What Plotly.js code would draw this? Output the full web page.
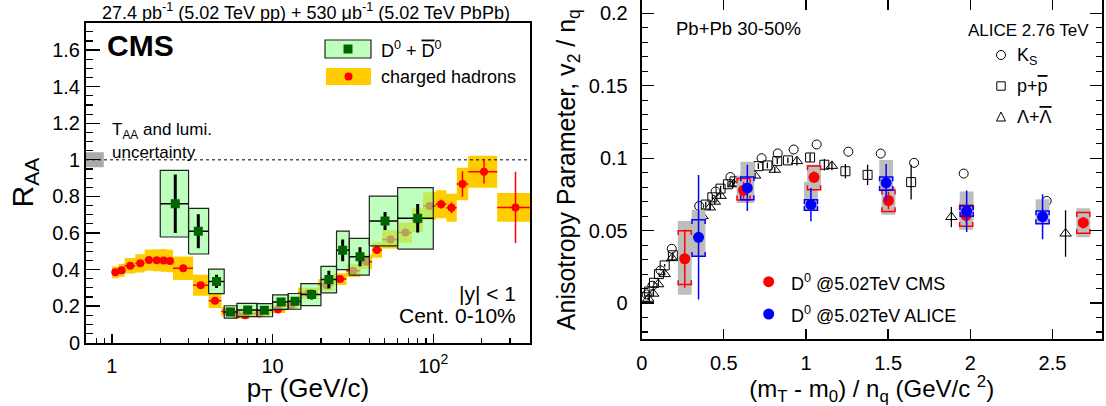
<!DOCTYPE html>
<html><head><meta charset="utf-8">
<script src="https://cdn.plot.ly/plotly-3.0.1.min.js"></script>
<style>html,body{margin:0;padding:0;background:#fff}#chart{width:1106px;height:406px}</style>
</head><body><div id="chart"></div>
<script>
// ================= LEFT PANEL DATA (CMS R_AA, 0-10%) =================
const chEdges = [1.0,1.1,1.2,1.4,1.6,1.8,2.0,2.2,2.4,3.2,4.0,4.8,5.6,6.4,7.2,9.6,12,14.4,19.2,24,28.8,35.2,41.6,48,60.8,73.6,86.4,103.6,120.8,140,165,250,400];
const chPt   = [1.05,1.15,1.3,1.5,1.7,1.9,2.1,2.3,2.78,3.57,4.38,5.19,6.0,6.75,8.3,10.8,13.1,16.8,21.6,26.3,31.8,38.2,44.6,54.2,67.2,79.8,95,112,130,152,207,325];
const chRaa  = [0.385,0.396,0.421,0.434,0.452,0.451,0.450,0.447,0.407,0.314,0.230,0.170,0.155,0.150,0.160,0.182,0.205,0.270,0.315,0.348,0.394,0.443,0.507,0.565,0.602,0.670,0.747,0.757,0.738,0.868,0.935,0.740];
const chStat = [0.004,0.004,0.004,0.004,0.004,0.004,0.004,0.004,0.004,0.004,0.004,0.004,0.004,0.004,0.004,0.004,0.005,0.005,0.006,0.006,0.007,0.008,0.010,0.012,0.015,0.018,0.020,0.025,0.030,0.070,0.065,0.195];
const chSyst = [0.032,0.035,0.042,0.050,0.058,0.060,0.062,0.062,0.064,0.057,0.040,0.025,0.022,0.020,0.020,0.020,0.022,0.030,0.032,0.032,0.035,0.040,0.043,0.050,0.055,0.065,0.076,0.077,0.077,0.089,0.087,0.079];

const dEdges = [2,3,4,5,6,8,10,12.5,15,20,25,30,40,60,100];
const dPt   = [2.48,3.45,4.48,5.47,7.0,8.88,11.3,13.8,17.5,22.4,27.3,35.0,50.1,80.0];
const dRaa  = [0.760,0.610,0.335,0.168,0.179,0.178,0.222,0.226,0.263,0.345,0.505,0.470,0.666,0.680];
const dStat = [0.160,0.093,0.036,0.015,0.014,0.013,0.020,0.020,0.027,0.049,0.060,0.052,0.049,0.078];
const dSyst = [0.182,0.125,0.067,0.034,0.036,0.036,0.040,0.043,0.060,0.072,0.105,0.100,0.136,0.168];

const unityRaa = 1.0;
const taaUnc = 0.041;
const taaPtRange = [0.69, 0.89];

// ================= RIGHT PANEL DATA (v2/nq vs KE_T/nq) =================
const ksX = [0.03,0.065,0.115,0.183,0.35,0.45,0.54,0.73,0.828,0.925,1.065,1.258,1.455,1.658,1.96,2.465];
const ksY = [0.006,0.012,0.0225,0.0375,0.067,0.077,0.087,0.100,0.1033,0.106,0.1095,0.1045,0.1032,0.0968,0.0894,0.0705];

const ppX = [0.02,0.045,0.075,0.105,0.14,0.19,0.39,0.43,0.48,0.525,0.565,0.71,0.765,0.825,0.89,1.025,1.112,1.24,1.375,1.64];
const ppY = [0.004,0.008,0.014,0.020,0.026,0.033,0.068,0.073,0.079,0.082,0.084,0.0945,0.095,0.098,0.0985,0.1005,0.0955,0.091,0.0885,0.0835];
const ppErr = [0.001,0.001,0.001,0.001,0.001,0.002,0.002,0.002,0.002,0.002,0.002,0.002,0.002,0.002,0.002,0.003,0.004,0.005,0.007,0.012];

const lamX = [0.04,0.07,0.10,0.14,0.185,0.37,0.415,0.445,0.48,0.56,0.69,0.81,0.945,1.158,1.885,2.58];
const lamY = [0.003,0.0065,0.013,0.020,0.031,0.060,0.066,0.070,0.074,0.082,0.088,0.092,0.098,0.0947,0.0594,0.048];
const lamErr = [0.001,0.001,0.001,0.001,0.002,0.002,0.002,0.002,0.002,0.002,0.002,0.002,0.003,0.003,0.007,0.016];

const cmsX = [0.262,0.62,1.049,1.502,1.975,2.688];
const cmsY = [0.0306,0.0778,0.0868,0.0708,0.0605,0.0555];
const cmsStat = [0.020,0.006,0.004,0.006,0.005,0.004];
const cmsSysLo = [0.0128,0.0712,0.0783,0.0632,0.0530,0.0482];
const cmsSysHi = [0.0500,0.0860,0.0947,0.0780,0.0675,0.0625];
const cmsGrayLo = [0.0058,0.069,0.078,0.061,0.0506,0.0455];
const cmsGrayHi = [0.0567,0.088,0.0955,0.080,0.070,0.0655];

const aliX = [0.346,0.643,1.03,1.488,1.978,2.44];
const aliY = [0.0454,0.0795,0.068,0.0830,0.0634,0.0596];
const aliStat = [0.043,0.016,0.0115,0.013,0.0143,0.0155];
const aliSysLo = [0.0323,0.0714,0.0640,0.0779,0.0600,0.0548];
const aliSysHi = [0.0576,0.0871,0.0714,0.0871,0.0670,0.0636];
const aliGrayLo = [0.0318,0.069,0.0643,0.077,0.057,0.0547];
const aliGrayHi = [0.0645,0.0975,0.0838,0.0988,0.077,0.0717];

// ================= helpers =================
const W = 1106, H = 406;
const px = v => v / W, py = v => 1 - v / H;
const FONT = 'Liberation Sans, Arial, Helvetica, sans-serif';
const OL = t => '<span style="text-decoration:overline">' + t + '</span>';
function boxPath(xl, xr, lo, hi) {
  const x = [], y = [];
  for (let i = 0; i < xl.length; i++) {
    x.push(xl[i], xr[i], xr[i], xl[i], xl[i], null);
    y.push(lo[i], lo[i], hi[i], hi[i], lo[i], null);
  }
  return {x, y};
}
function bracketPath(xc, lo, hi, hw, tk) {
  const x = [], y = [];
  for (let i = 0; i < xc.length; i++) {
    x.push(xc[i]-hw, xc[i]-hw, xc[i]+hw, xc[i]+hw, null);
    y.push(hi[i]-tk, hi[i], hi[i], hi[i]-tk, null);
    x.push(xc[i]-hw, xc[i]-hw, xc[i]+hw, xc[i]+hw, null);
    y.push(lo[i]+tk, lo[i], lo[i], lo[i]+tk, null);
  }
  return {x, y};
}
const sub = (a, b) => a.map((v, i) => v - b[i]);
const add = (a, b) => a.map((v, i) => v + b[i]);

const traces = [];
// ---- left panel ----
const chLo = chEdges.slice(0, -1), chHi = chEdges.slice(1);
const yb = boxPath(chLo, chHi, sub(chRaa, chSyst), add(chRaa, chSyst));
traces.push({type:'scatter', mode:'lines', x: yb.x, y: yb.y, fill:'toself', fillcolor:'#ffcc00',
  line:{width:0, color:'#ffcc00'}, xaxis:'x', yaxis:'y', hoverinfo:'skip', showlegend:false});
traces.push({type:'scatter', mode:'lines', x:[taaPtRange[0],taaPtRange[1],taaPtRange[1],taaPtRange[0],taaPtRange[0]],
  y:[unityRaa-taaUnc,unityRaa-taaUnc,unityRaa+taaUnc,unityRaa+taaUnc,unityRaa-taaUnc], fill:'toself', fillcolor:'#aaaaaa',
  line:{width:0,color:'#aaaaaa'}, xaxis:'x', yaxis:'y', hoverinfo:'skip', showlegend:false});
traces.push({type:'scatter', mode:'lines', x:[taaPtRange[0], chEdges[chEdges.length-1]], y:[unityRaa, unityRaa],
  line:{color:'#000', width:1, dash:'3px,3px'}, xaxis:'x', yaxis:'y', hoverinfo:'skip', showlegend:false});
traces.push({type:'scatter', mode:'markers', x: chPt, y: chRaa, name:'charged hadrons',
  marker:{symbol:'circle', size:8, color:'#ff0000'},
  error_y:{type:'data', array: chStat, color:'#ff0000', thickness:1.5, width:0},
  error_x:{type:'data', symmetric:false, array: sub(chHi, chPt), arrayminus: sub(chPt, chLo), color:'#ff0000', thickness:1.5, width:0},
  xaxis:'x', yaxis:'y', showlegend:false});
const dLo = dEdges.slice(0, -1), dHi = dEdges.slice(1);
const gb = boxPath(dLo, dHi, sub(dRaa, dSyst), add(dRaa, dSyst));
traces.push({type:'scatter', mode:'lines', x: gb.x, y: gb.y, fill:'toself', fillcolor:'rgba(150,255,150,0.62)',
  line:{width:1.2, color:'#222'}, xaxis:'x', yaxis:'y', hoverinfo:'skip', showlegend:false});
traces.push({type:'scatter', mode:'markers', x: dPt, y: dRaa, name:'D0',
  marker:{symbol:'square', size:9, color:'#006400'},
  error_y:{type:'data', array: dStat, color:'#000', thickness:3, width:0},
  error_x:{type:'data', symmetric:false, array: sub(dHi, dPt), arrayminus: sub(dPt, dLo), color:'#000', thickness:1.5, width:0},
  xaxis:'x', yaxis:'y', showlegend:false});

// ---- right panel ----
traces.push({type:'scatter', mode:'markers', x: ksX, y: ksY, name:'K_S',
  marker:{symbol:'circle-open', size:9, color:'#000', line:{width:1}}, xaxis:'x2', yaxis:'y2', showlegend:false});
traces.push({type:'scatter', mode:'markers', x: ppX, y: ppY, name:'p',
  error_y:{type:'data', array: ppErr, color:'#000', thickness:1.3, width:0},
  marker:{symbol:'square-open', size:9, color:'#000', line:{width:1}}, xaxis:'x2', yaxis:'y2', showlegend:false});
traces.push({type:'scatter', mode:'markers', x: lamX, y: lamY, name:'Lambda',
  error_y:{type:'data', array: lamErr, color:'#000', thickness:1.3, width:0},
  marker:{symbol:'triangle-up-open', size:10, color:'#000', line:{width:1}}, xaxis:'x2', yaxis:'y2', showlegend:false});
const grayHW = 0.042, brHW = 0.04, brTick = 0.003;
const allX = cmsX.concat(aliX);
const gr = boxPath(allX.map(v => v - grayHW), allX.map(v => v + grayHW),
                   cmsGrayLo.concat(aliGrayLo), cmsGrayHi.concat(aliGrayHi));
traces.push({type:'scatter', mode:'lines', x: gr.x, y: gr.y, fill:'toself', fillcolor:'#bdbdbd',
  line:{width:0, color:'#bdbdbd'}, xaxis:'x2', yaxis:'y2', hoverinfo:'skip', showlegend:false});
const rb = bracketPath(cmsX, cmsSysLo, cmsSysHi, brHW, brTick);
traces.push({type:'scatter', mode:'lines', x: rb.x, y: rb.y, line:{color:'#ff0000', width:1.5},
  xaxis:'x2', yaxis:'y2', hoverinfo:'skip', showlegend:false});
traces.push({type:'scatter', mode:'markers', x: cmsX, y: cmsY, name:'CMS D0',
  error_y:{type:'data', array: cmsStat, color:'#ff0000', thickness:1.5, width:0},
  marker:{symbol:'circle', size:11, color:'#ff0000'}, xaxis:'x2', yaxis:'y2', showlegend:false});
const bb = bracketPath(aliX, aliSysLo, aliSysHi, brHW, brTick);
traces.push({type:'scatter', mode:'lines', x: bb.x, y: bb.y, line:{color:'#0000ff', width:1.5},
  xaxis:'x2', yaxis:'y2', hoverinfo:'skip', showlegend:false});
traces.push({type:'scatter', mode:'markers', x: aliX, y: aliY, name:'ALICE D0',
  error_y:{type:'data', array: aliStat, color:'#0000ff', thickness:1.5, width:0},
  marker:{symbol:'circle', size:11, color:'#0000ff'}, xaxis:'x2', yaxis:'y2', showlegend:false});

// minor tick positions for log axis
const logMinor = [];
for (let d = 0.1; d <= 100; d *= 10) for (let k = 2; k <= 9; k++) { const v = +(k*d).toPrecision(3); if (v >= 0.69 && v <= 400) logMinor.push(v); }

const tickFont = {family: FONT, size: 20, color: '#000'};
const layout = {
  width: W, height: H, margin: {l:0, r:0, t:0, b:0}, paper_bgcolor:'#fff', plot_bgcolor:'#fff',
  font: {family: FONT, color:'#000'}, showlegend:false,
  xaxis: {domain:[px(86), px(530)], anchor:'y', type:'log', range:[Math.log10(0.69), Math.log10(400)],
    tickvals:[1,10,100], ticktext:['1','10','10<sup>2</sup>'], ticks:'inside', ticklen:9, tickwidth:1.3, tickcolor:'#000',
    minor:{tickvals: logMinor, ticks:'inside', ticklen:4.5, tickwidth:1.2, tickcolor:'#000', showgrid:false},
    showline:true, linewidth:2, linecolor:'#000', mirror:true, showgrid:false, zeroline:false,
    tickfont: tickFont, ticklabelstandoff: 4,
    title:{text:'p<sub>T</sub> (GeV/c)', font:{family:FONT, size:26, color:'#000'}, standoff: 16}},
  yaxis: {domain:[py(342.7), py(22.7)], anchor:'x', range:[0, 1.75], dtick:0.2, tick0:0,
    ticks:'inside', ticklen:14, tickwidth:1.3, tickcolor:'#000',
    minor:{dtick:0.05, ticks:'inside', ticklen:7, tickwidth:1.2, tickcolor:'#000', showgrid:false},
    showline:true, linewidth:2, linecolor:'#000', mirror:true, showgrid:false, zeroline:false,
    tickfont: tickFont, ticklabelstandoff: 0,
    title:{text:'R<sub>AA</sub>', font:{family:FONT, size:30, color:'#000'}, standoff: 10}},
  xaxis2: {domain:[px(641.7), px(1101.7)], anchor:'y2', range:[0, 2.8], dtick:0.5, tick0:0,
    ticks:'inside', ticklen:10, tickwidth:1.3, tickcolor:'#000',
    showline:true, linewidth:2, linecolor:'#000', mirror:'allticks', showgrid:false, zeroline:false,
    tickfont: tickFont, ticklabelstandoff: 5,
    title:{text:'(m<sub>T</sub> - m<sub>0</sub>) / n<sub>q</sub> (GeV/c <sup>2</sup>)', font:{family:FONT, size:24, color:'#000'}, standoff: 7}},
  yaxis2: {domain:[py(339.3), 1], anchor:'x2', range:[-0.025, 0.2092], dtick:0.05, tick0:0,
    ticks:'inside', ticklen:12, tickwidth:1.3, tickcolor:'#000',
    minor:{dtick:0.01, ticks:'inside', ticklen:6, tickwidth:1.2, tickcolor:'#000', showgrid:false},
    showline:true, linewidth:2, linecolor:'#000', mirror:'allticks', showgrid:false, zeroline:false,
    tickfont: tickFont, ticklabelstandoff: 8,
    title:{text:'Anisotropy Parameter, v<sub>2</sub> / n<sub>q</sub>', font:{family:FONT, size:25, color:'#000'}, standoff: 6}},
  shapes: [
    // left legend
    {type:'rect', xref:'paper', yref:'paper', x0:px(325), x1:px(371), y0:py(58), y1:py(40), fillcolor:'rgba(150,255,150,0.62)', line:{color:'#222', width:1.2}},
    {type:'rect', xref:'paper', yref:'paper', x0:px(343.5), x1:px(352.5), y0:py(53.5), y1:py(44.5), fillcolor:'#006400', line:{width:0}},
    {type:'rect', xref:'paper', yref:'paper', x0:px(326), x1:px(371), y0:py(85), y1:py(68), fillcolor:'#ffcc00', line:{width:0}},
    {type:'circle', xref:'paper', yref:'paper', x0:px(344.5), x1:px(352.5), y0:py(80.5), y1:py(72.5), fillcolor:'#ff0000', line:{width:0}},
    // right legend markers
    {type:'circle', xref:'paper', yref:'paper', x0:px(996.5), x1:px(1005.5), y0:py(59.5), y1:py(50.5), line:{color:'#000', width:1}},
    {type:'rect', xref:'paper', yref:'paper', x0:px(996.8), x1:px(1005.2), y0:py(90.2), y1:py(81.8), line:{color:'#000', width:1}},
    {type:'path', xref:'paper', yref:'paper', path:`M ${px(1001)} ${py(112)} L ${px(1005.5)} ${py(121)} L ${px(996.5)} ${py(121)} Z`, line:{color:'#000', width:1}},
    {type:'circle', xref:'paper', yref:'paper', x0:px(763.2), x1:px(774.2), y0:py(287.2), y1:py(276.2), fillcolor:'#ff0000', line:{width:0}},
    {type:'circle', xref:'paper', yref:'paper', x0:px(763.2), x1:px(774.2), y0:py(319.5), y1:py(308.5), fillcolor:'#0000ff', line:{width:0}}
  ],
  annotations: [
    {xref:'paper', yref:'paper', x:px(306), y:py(11), xanchor:'center', yanchor:'middle', showarrow:false,
      text:'27.4 pb<sup>-1</sup> (5.02 TeV pp) + 530 μb<sup>-1</sup> (5.02 TeV PbPb)', font:{family:FONT, size:18}},
    {xref:'paper', yref:'paper', x:px(105), y:py(45), xanchor:'left', yanchor:'middle', showarrow:false,
      text:'<b>CMS</b>', font:{family:FONT, size:30}},
    {xref:'paper', yref:'paper', x:px(379), y:py(49), xanchor:'left', yanchor:'middle', showarrow:false,
      text:'D<sup>0</sup> + ' + OL('D') + '<sup>0</sup>', font:{family:FONT, size:18}},
    {xref:'paper', yref:'paper', x:px(379), y:py(77), xanchor:'left', yanchor:'middle', showarrow:false,
      text:'charged hadrons', font:{family:FONT, size:18}},
    {xref:'paper', yref:'paper', x:px(110), y:py(131), xanchor:'left', yanchor:'middle', showarrow:false,
      text:'T<sub>AA</sub> and lumi.', font:{family:FONT, size:17}},
    {xref:'paper', yref:'paper', x:px(110), y:py(152), xanchor:'left', yanchor:'middle', showarrow:false,
      text:'uncertainty', font:{family:FONT, size:17}},
    {xref:'paper', yref:'paper', x:px(518), y:py(293), xanchor:'right', yanchor:'middle', showarrow:false,
      text:'|y| < 1', font:{family:FONT, size:21}},
    {xref:'paper', yref:'paper', x:px(518), y:py(315), xanchor:'right', yanchor:'middle', showarrow:false,
      text:'Cent. 0-10%', font:{family:FONT, size:21}},
    {xref:'paper', yref:'paper', x:px(674), y:py(29), xanchor:'left', yanchor:'middle', showarrow:false,
      text:'Pb+Pb 30-50%', font:{family:FONT, size:18.5}},
    {xref:'paper', yref:'paper', x:px(1091), y:py(30), xanchor:'right', yanchor:'middle', showarrow:false,
      text:'ALICE 2.76 TeV', font:{family:FONT, size:17}},
    {xref:'paper', yref:'paper', x:px(1015), y:py(56), xanchor:'left', yanchor:'middle', showarrow:false,
      text:'K<sub>S</sub>', font:{family:FONT, size:18}},
    {xref:'paper', yref:'paper', x:px(1015), y:py(86), xanchor:'left', yanchor:'middle', showarrow:false,
      text:'p+' + OL('p'), font:{family:FONT, size:18}},
    {xref:'paper', yref:'paper', x:px(1015), y:py(117), xanchor:'left', yanchor:'middle', showarrow:false,
      text:'Λ+' + OL('Λ'), font:{family:FONT, size:18}},
    {xref:'paper', yref:'paper', x:px(789), y:py(282), xanchor:'left', yanchor:'middle', showarrow:false,
      text:'D<sup>0</sup> @5.02TeV CMS', font:{family:FONT, size:18}},
    {xref:'paper', yref:'paper', x:px(789), y:py(314), xanchor:'left', yanchor:'middle', showarrow:false,
      text:'D<sup>0</sup> @5.02TeV ALICE', font:{family:FONT, size:18}}
  ]
};
Plotly.newPlot('chart', traces, layout, {staticPlot:true, displayModeBar:false});
</script></body></html>
